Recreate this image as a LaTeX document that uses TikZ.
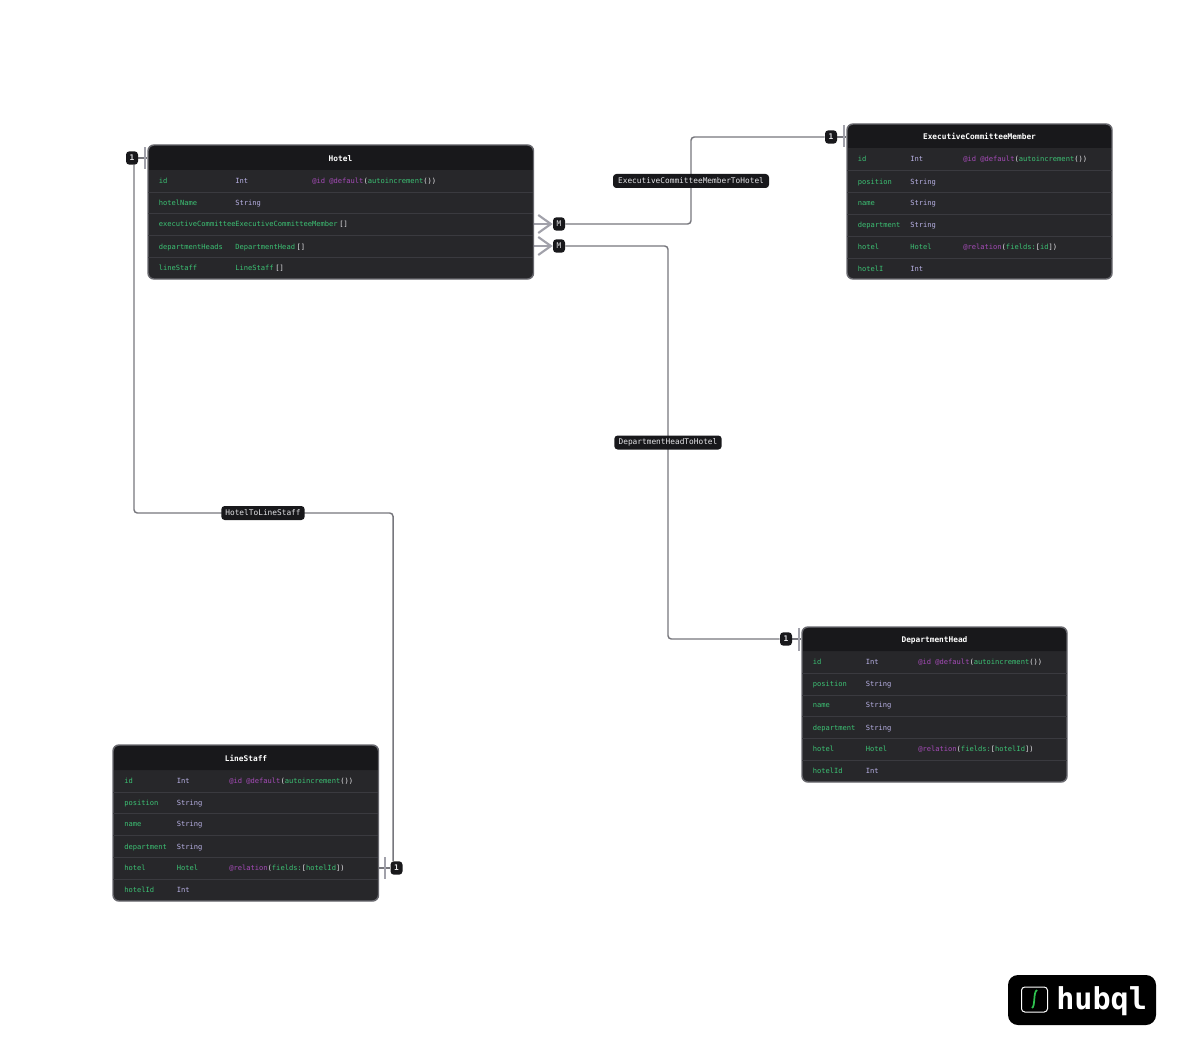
\documentclass[tikz,border=0pt]{standalone}
\usepackage{fontspec}
\setmonofont{DejaVu Sans Mono}
\usetikzlibrary{arrows.meta, fit, backgrounds}
\definecolor{rowfill}{HTML}{27272A}
\definecolor{headfill}{HTML}{18181B}
\definecolor{rowrule}{HTML}{3A3A3F}
\definecolor{frame}{HTML}{68686E}
\definecolor{wire}{HTML}{77777D}
\definecolor{mark}{HTML}{A1A1AA}
\definecolor{namegreen}{HTML}{3CC274}
\definecolor{typeviolet}{HTML}{B9B2E6}
\definecolor{attrpurple}{HTML}{A64BB8}
\definecolor{plainwhite}{HTML}{E4E4E7}
\definecolor{logogreen}{HTML}{2FC24F}
\tikzstyle{tablebox} = [rectangle, rounded corners=4.5pt, inner sep=0pt, draw=frame, line width=1.1pt, fill=rowfill]
\tikzstyle{headband} = [fill=headfill]
\tikzstyle{rowline} = [draw=rowrule, line width=0.6pt, shorten <=0.6pt, shorten >=0.6pt]
\tikzstyle{cell} = [inner sep=0pt, anchor=base west, font=\ttfamily\fontsize{5.32}{6}\selectfont]
\tikzstyle{fieldname} = [cell, text=namegreen]
\tikzstyle{fieldtype} = [cell, text=typeviolet]
\tikzstyle{fieldmodel} = [cell, text=namegreen]
\tikzstyle{fieldattr} = [cell, text=attrpurple]
\tikzstyle{title} = [inner sep=0pt, anchor=base, text=white, font=\ttfamily\bfseries\fontsize{5.86}{7}\selectfont]
\tikzstyle{badge} = [rectangle, rounded corners=2.5pt, fill=headfill, text=plainwhite, inner sep=0pt, minimum width=9pt, minimum height=10pt, font=\ttfamily\bfseries\fontsize{5.86}{7}\selectfont]
\tikzstyle{linklabel} = [rectangle, rounded corners=2.5pt, fill=headfill, text=plainwhite, inner sep=0pt, minimum height=10.5pt, font=\ttfamily\fontsize{5.86}{7}\selectfont]
\tikzstyle{conn} = [draw=wire, line width=1.1pt, rounded corners=2.5pt]
\tikzstyle{stub} = [draw=wire, line width=1.1pt]
\tikzstyle{crow} = [draw=mark, line width=1.1pt, -{Straight Barb[length=9.5pt,width=13.5pt,line width=1.6pt]}]
\tikzstyle{tickbar} = [rectangle, fill=mark, inner sep=0pt, minimum width=2.2pt, minimum height=17pt]
\newcommand{\attrdefault}{@id @default\textcolor{namegreen}{\textcolor{plainwhite}{(}autoincrement\textcolor{plainwhite}{())}}}
\newcommand{\attrrelation}[1]{@relation\textcolor{plainwhite}{(}\textcolor{namegreen}{fields:}\textcolor{plainwhite}{[}\textcolor{namegreen}{#1}\textcolor{plainwhite}{])}}
\newcommand{\listmark}{\hspace{1.2pt}\textcolor{plainwhite}{[]}}
\begin{document}
\begin{tikzpicture}[x=0.75pt, y=-0.75pt]
    \useasboundingbox (0,0) rectangle (1192,1052);

    % Hotel
    \node (hotel) [tablebox, fit={(148,145) (533.5,279)}] {};
    \fill [headband, rounded corners=3.8pt] (149,170) -- (149,146) -- (532.5,146) [sharp corners] -- (532.5,170) -- cycle;
    \draw [rowline] (hotel.west |- 0,192) -- (hotel.east |- 0,192);
    \draw [rowline] (hotel.west |- 0,213.5) -- (hotel.east |- 0,213.5);
    \draw [rowline] (hotel.west |- 0,235) -- (hotel.east |- 0,235);
    \draw [rowline] (hotel.west |- 0,257) -- (hotel.east |- 0,257);
    \node (hotelTitle) [title] at (340.5,161.5) {Hotel};
    \node (hotelIdName) [fieldname] at (158.5,184) {id};
    \node (hotelIdType) [fieldtype] at (235,184) {Int};
    \node (hotelIdAttr) [fieldattr] at (312,184) {\attrdefault};
    \node (hotelNameName) [fieldname] at (158.5,205) {hotelName};
    \node (hotelNameType) [fieldtype] at (235,205) {String};
    \node (hotelExecName) [fieldname] at (158.5,226) {executiveCommittee};
    \node (hotelExecType) [fieldmodel] at (235,226) {ExecutiveCommitteeMember\listmark};
    \node (hotelDeptName) [fieldname] at (158.5,249) {departmentHeads};
    \node (hotelDeptType) [fieldmodel] at (235,249) {DepartmentHead\listmark};
    \node (hotelStaffName) [fieldname] at (158.5,270) {lineStaff};
    \node (hotelStaffType) [fieldmodel] at (235,270) {LineStaff\listmark};

    % ExecutiveCommitteeMember
    \node (exec) [tablebox, fit={(847,124) (1112,279)}] {};
    \fill [headband, rounded corners=3.8pt] (848,148) -- (848,125) -- (1111,125) [sharp corners] -- (1111,148) -- cycle;
    \draw [rowline] (exec.west |- 0,170.5) -- (exec.east |- 0,170.5);
    \draw [rowline] (exec.west |- 0,192) -- (exec.east |- 0,192);
    \draw [rowline] (exec.west |- 0,214) -- (exec.east |- 0,214);
    \draw [rowline] (exec.west |- 0,236) -- (exec.east |- 0,236);
    \draw [rowline] (exec.west |- 0,258) -- (exec.east |- 0,258);
    \node (execTitle) [title] at (979.5,139.5) {ExecutiveCommitteeMember};
    \node (execIdName) [fieldname] at (857.5,162) {id};
    \node (execIdType) [fieldtype] at (910,162) {Int};
    \node (execIdAttr) [fieldattr] at (963,162) {\attrdefault};
    \node (execPosName) [fieldname] at (857.5,184.5) {position};
    \node (execPosType) [fieldtype] at (910,184.5) {String};
    \node (execNameName) [fieldname] at (857.5,205.5) {name};
    \node (execNameType) [fieldtype] at (910,205.5) {String};
    \node (execDeptName) [fieldname] at (857.5,227.5) {department};
    \node (execDeptType) [fieldtype] at (910,227.5) {String};
    \node (execHotelName) [fieldname] at (857.5,249) {hotel};
    \node (execHotelType) [fieldmodel] at (910,249) {Hotel};
    \node (execHotelAttr) [fieldattr] at (963,249) {\attrrelation{id}};
    \node (execHotelIName) [fieldname] at (857.5,271) {hotelI};
    \node (execHotelIType) [fieldtype] at (910,271) {Int};

    % DepartmentHead
    \node (dept) [tablebox, fit={(802,627) (1067,782)}] {};
    \fill [headband, rounded corners=3.8pt] (803,651) -- (803,628) -- (1066,628) [sharp corners] -- (1066,651) -- cycle;
    \draw [rowline] (dept.west |- 0,673) -- (dept.east |- 0,673);
    \draw [rowline] (dept.west |- 0,695) -- (dept.east |- 0,695);
    \draw [rowline] (dept.west |- 0,716.5) -- (dept.east |- 0,716.5);
    \draw [rowline] (dept.west |- 0,738) -- (dept.east |- 0,738);
    \draw [rowline] (dept.west |- 0,760) -- (dept.east |- 0,760);
    \node (deptTitle) [title] at (934.5,642.5) {DepartmentHead};
    \node (deptIdName) [fieldname] at (812.5,664) {id};
    \node (deptIdType) [fieldtype] at (865.5,664) {Int};
    \node (deptIdAttr) [fieldattr] at (918,664) {\attrdefault};
    \node (deptPosName) [fieldname] at (812.5,686) {position};
    \node (deptPosType) [fieldtype] at (865.5,686) {String};
    \node (deptNameName) [fieldname] at (812.5,707) {name};
    \node (deptNameType) [fieldtype] at (865.5,707) {String};
    \node (deptDeptName) [fieldname] at (812.5,730) {department};
    \node (deptDeptType) [fieldtype] at (865.5,730) {String};
    \node (deptHotelName) [fieldname] at (812.5,751) {hotel};
    \node (deptHotelType) [fieldmodel] at (865.5,751) {Hotel};
    \node (deptHotelAttr) [fieldattr] at (918,751) {\attrrelation{hotelId}};
    \node (deptHotelIdName) [fieldname] at (812.5,773) {hotelId};
    \node (deptHotelIdType) [fieldtype] at (865.5,773) {Int};

    % LineStaff
    \node (staff) [tablebox, fit={(113,745) (378.5,901)}] {};
    \fill [headband, rounded corners=3.8pt] (114,770) -- (114,746) -- (377.5,746) [sharp corners] -- (377.5,770) -- cycle;
    \draw [rowline] (staff.west |- 0,792) -- (staff.east |- 0,792);
    \draw [rowline] (staff.west |- 0,813.5) -- (staff.east |- 0,813.5);
    \draw [rowline] (staff.west |- 0,835.5) -- (staff.east |- 0,835.5);
    \draw [rowline] (staff.west |- 0,857) -- (staff.east |- 0,857);
    \draw [rowline] (staff.west |- 0,879) -- (staff.east |- 0,879);
    \node (staffTitle) [title] at (246,761.5) {LineStaff};
    \node (staffIdName) [fieldname] at (124,783) {id};
    \node (staffIdType) [fieldtype] at (176.5,783) {Int};
    \node (staffIdAttr) [fieldattr] at (229,783) {\attrdefault};
    \node (staffPosName) [fieldname] at (124,805) {position};
    \node (staffPosType) [fieldtype] at (176.5,805) {String};
    \node (staffNameName) [fieldname] at (124,826) {name};
    \node (staffNameType) [fieldtype] at (176.5,826) {String};
    \node (staffDeptName) [fieldname] at (124,849) {department};
    \node (staffDeptType) [fieldtype] at (176.5,849) {String};
    \node (staffHotelName) [fieldname] at (124,870) {hotel};
    \node (staffHotelType) [fieldmodel] at (176.5,870) {Hotel};
    \node (staffHotelAttr) [fieldattr] at (229,870) {\attrrelation{hotelId}};
    \node (staffHotelIdName) [fieldname] at (124,892) {hotelId};
    \node (staffHotelIdType) [fieldtype] at (176.5,892) {Int};

    % badges and labels
    \node (hotelOne) [badge] at (132,158) {1};
    \node (execOne) [badge] at (831,137) {1};
    \node (deptOne) [badge] at (786,639) {1};
    \node (staffOne) [badge] at (396.5,868) {1};
    \node (hotelManyExec) [badge, font=\ttfamily\fontsize{5.86}{7}\selectfont] at (559,224) {M};
    \node (hotelManyDept) [badge, font=\ttfamily\fontsize{5.86}{7}\selectfont] at (559,246) {M};
    \node (execLabel) [linklabel, minimum width=117pt] at (691,181) {ExecutiveCommitteeMemberToHotel};
    \node (deptLabel) [linklabel, minimum width=80.5pt] at (668,442.5) {DepartmentHeadToHotel};
    \node (staffLabel) [linklabel, minimum width=62.5pt] at (263,513) {HotelToLineStaff};
    \node (hotelTick) [tickbar] at (145,158) {};
    \node (execTick) [tickbar] at (844,136) {};
    \node (deptTick) [tickbar] at (799,639.5) {};
    \node (staffTick) [tickbar] at (385,868) {};

    \begin{scope}[on background layer]
    \draw [conn] ([xshift=1.5pt]hotelOne.south) |- (staffLabel.center) -| ([xshift=-2.6pt]staffOne.north);
    \draw [conn] (hotelManyExec.east) -| (execLabel.center) |- (execOne.west);
    \draw [conn] (hotelManyDept.east) -| (deptLabel.center) |- (deptOne.west);
    \draw [stub] (hotelOne.east) -- (hotel.west |- hotelOne);
    \draw [stub] (execOne.east) -- (exec.west |- execOne);
    \draw [stub] (deptOne.east) -- (dept.west |- deptOne);
    \draw [stub] (staffOne.west) -- (staff.east |- staffOne);
    \draw [crow] (hotel.east |- hotelManyExec) -- (hotelManyExec.west);
    \draw [crow] (hotel.east |- hotelManyDept) -- (hotelManyDept.west);
    \end{scope}

    % logo
    \node (logo) [rectangle, fill=black, rounded corners=7.5pt, inner sep=0pt, fit={(1008,975) (1156,1025)}] {};
    \node (logoIcon) [rectangle, draw=white, line width=0.75pt, rounded corners=2.5pt, inner sep=0pt, fit={(1021.5,987) (1047.5,1012)}] {};
    \draw [logogreen, line width=1.3pt] (1032,1008) .. controls (1035.5,1006) and (1033,992) .. (1037,990);
    \node (logoText) [inner sep=0pt, anchor=base west, text=white, font=\ttfamily\bfseries\fontsize{22.6}{24}\selectfont] at (1056,1009) {hubql};
\end{tikzpicture}
\end{document}
